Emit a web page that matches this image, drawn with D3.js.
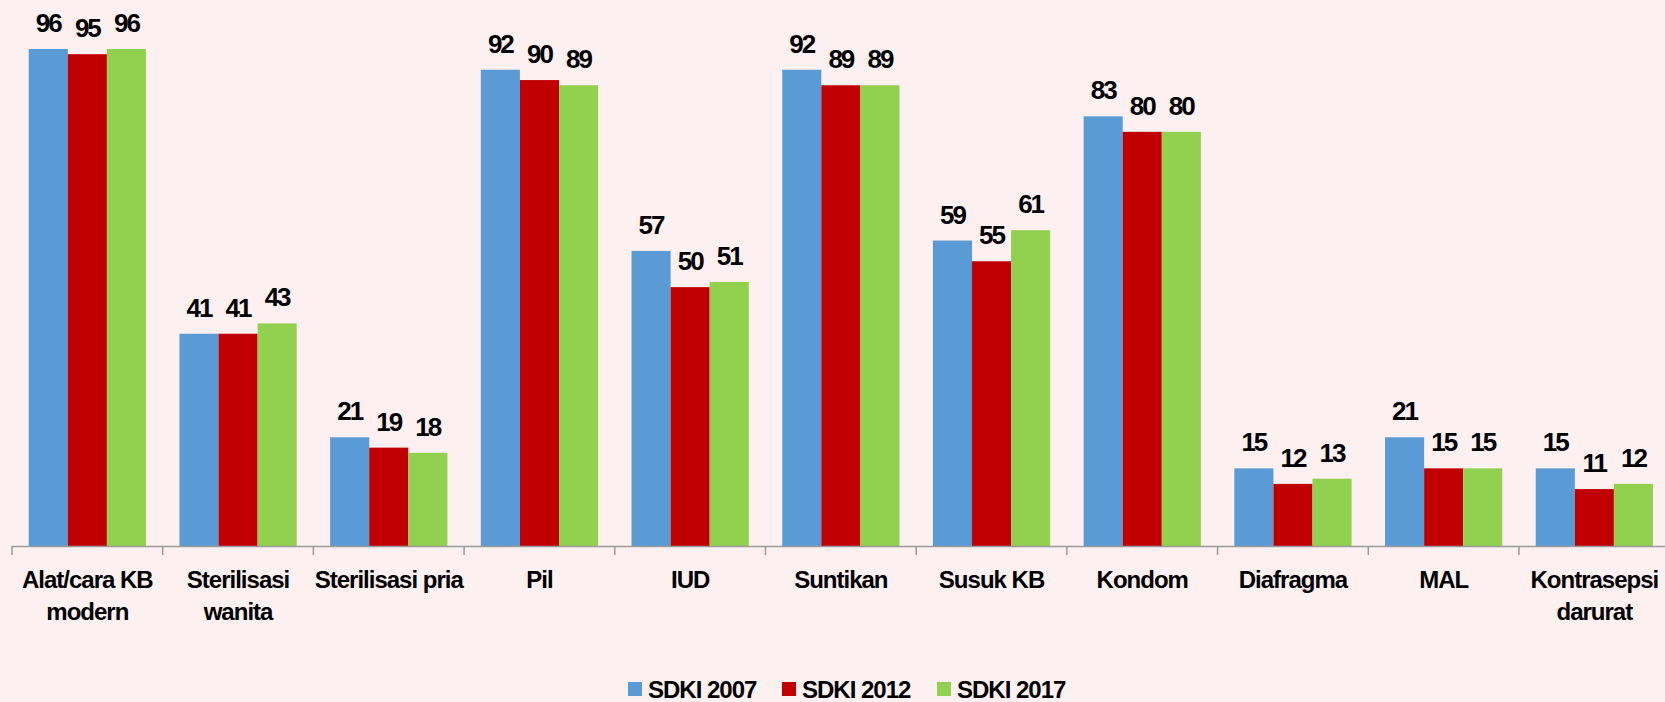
<!DOCTYPE html>
<html>
<head>
<meta charset="utf-8">
<script src="https://cdn.jsdelivr.net/npm/d3@7"></script>
<style>
  html, body { margin: 0; padding: 0; background: #fdf0f1; }
  svg { display: block; }
  text { font-family: "Liberation Sans", Arial, sans-serif; font-weight: bold; fill: #000; }
</style>
</head>
<body>
<div id="chart"></div>
<script>
// category labels (line-broken as in the chart)
const categories = [
    ["Alat/cara KB", "modern"],
    ["Sterilisasi", "wanita"],
    ["Sterilisasi pria"],
    ["Pil"],
    ["IUD"],
    ["Suntikan"],
    ["Susuk KB"],
    ["Kondom"],
    ["Diafragma"],
    ["MAL"],
    ["Kontrasepsi", "darurat"]
];
const seriesNames = ["SDKI 2007", "SDKI 2012", "SDKI 2017"];
const sdki2007 = [96, 41, 21, 92, 57, 92, 59, 83, 15, 21, 15];
const sdki2012 = [95, 41, 19, 90, 50, 89, 55, 80, 12, 15, 11];
const sdki2017 = [96, 43, 18, 89, 51, 89, 61, 80, 13, 15, 12];
const seriesColors = ["#5b9bd5", "#c00000", "#92d050"];

const width = 1665, height = 702;
const series = [sdki2007, sdki2012, sdki2017];
const keys = categories.map(d => d.join(" "));

const svg = d3.select("#chart").append("svg")
    .attr("width", width)
    .attr("height", height);

const x = d3.scaleBand()
    .domain(keys)
    .range([12, 12 + 11 * 150.7])
    .paddingInner(0.222)
    .paddingOuter(0.111);

const xInner = d3.scaleBand()
    .domain(d3.range(series.length))
    .range([0, x.bandwidth()]);

const y = d3.scaleLinear()
    .domain([0, 100])
    .range([546, 28.3]);

// bars
const groups = svg.append("g")
    .selectAll("g")
    .data(keys)
    .join("g")
    .attr("transform", d => `translate(${x(d)},0)`);

groups.selectAll("rect")
    .data((d, i) => series.map((s, j) => ({ s: j, v: s[i] })))
    .join("rect")
    .attr("x", d => xInner(d.s))
    .attr("y", d => y(d.v))
    .attr("width", xInner.bandwidth())
    .attr("height", d => y(0) - y(d.v))
    .attr("fill", d => seriesColors[d.s]);

// value labels
groups.selectAll("text")
    .data((d, i) => series.map((s, j) => ({ s: j, v: s[i] })))
    .join("text")
    .attr("x", d => xInner(d.s) + xInner.bandwidth() / 2)
    .attr("y", d => y(d.v) - 17)
    .attr("text-anchor", "middle")
    .style("font-size", "26px")
    .style("letter-spacing", "-2px")
    .text(d => d.v);

// axis line and ticks at category boundaries
const axis = svg.append("g");
axis.append("line")
    .attr("x1", x.range()[0]).attr("x2", width)
    .attr("y1", y(0) + 0.5).attr("y2", y(0) + 0.5)
    .attr("stroke", "#9a9a9a").attr("stroke-width", 1.5);

const half = x.step() * x.paddingInner() / 2;
const bounds = keys.map(k => x(k) - half);
axis.selectAll("line.tick")
    .data(bounds)
    .join("line")
    .attr("class", "tick")
    .attr("x1", d => d).attr("x2", d => d)
    .attr("y1", y(0)).attr("y2", y(0) + 9)
    .attr("stroke", "#9a9a9a").attr("stroke-width", 1.5);

// category labels
const catLabels = svg.append("g")
    .selectAll("text")
    .data(categories)
    .join("text")
    .attr("text-anchor", "middle")
    .attr("x", d => x(d.join(" ")) + x.bandwidth() / 2)
    .attr("y", 588)
    .style("font-size", "24px")
    .style("letter-spacing", "-1px");

catLabels.selectAll("tspan")
    .data(d => d)
    .join("tspan")
    .attr("x", function () { return d3.select(this.parentNode).attr("x"); })
    .attr("dy", (d, i) => i === 0 ? 0 : 32)
    .text(d => d);

// legend
const legendX = [628, 782, 937];
const legend = svg.append("g")
    .selectAll("g")
    .data(seriesNames)
    .join("g")
    .attr("transform", (d, i) => `translate(${legendX[i]},682)`);

legend.append("rect")
    .attr("width", 14).attr("height", 14)
    .attr("fill", (d, i) => seriesColors[i]);

legend.append("text")
    .attr("x", 20)
    .attr("y", 16)
    .style("font-size", "24px")
    .style("letter-spacing", "-1px")
    .text(d => d);
</script>
</body>
</html>
